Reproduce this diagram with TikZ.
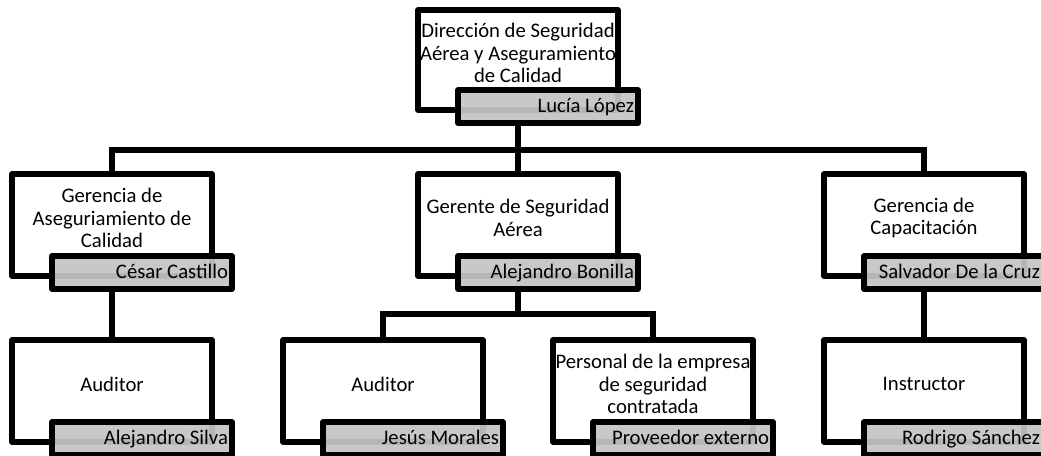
\documentclass[tikz,border=0pt]{standalone}
\usepackage{fontspec}
\setmainfont{Carlito}
\usetikzlibrary{calc}
\pgfdeclarelayer{bg}
\pgfsetlayers{bg,main}
\definecolor{namefill}{RGB}{196,196,196}
\tikzset{
  wbox/.style={draw=black, line width=5.5pt, fill=white, minimum width=200pt,
    inner sep=0pt, outer sep=0pt, line join=round},
  nbox/.style={draw=black, line width=5.5pt, fill=namefill, fill opacity=0.93,
    text opacity=1, minimum width=180pt, minimum height=33pt, inner xsep=4pt,
    inner ysep=0pt, outer sep=0pt,
    font=\fontsize{20.7}{22.6}\selectfont, text height=15pt, text depth=4pt,
    line join=round},
  ttext/.style={align=center, font=\fontsize{20.7}{22.6}\selectfont, inner sep=0pt},
  conn/.style={draw=black, line width=5.5pt}
}
\newcommand\orgunit[6]{%
  \node[wbox, minimum height={(#4-#3)*1pt}] (w#1) at ({#2+100},{(#3+#4)/2}) {};
  \node[ttext] (t#1) at ({#2+100},{(#3+#4-20)/2+3}) {#5};
  \node[nbox] (n#1) at ({#2+130},{#4-3.5}) {\makebox[172pt][r]{#6}};
}
\begin{document}
\begin{tikzpicture}[x=1pt,y=-1pt]
\useasboundingbox (0,0) rectangle (1041,455);
\orgunit{Top}{418}{10}{110}{Dirección de Seguridad\\Aérea y Aseguramiento\\de Calidad}{Lucía López}
\orgunit{A}{12}{174}{276}{Gerencia de\\Aseguriamiento de\\Calidad}{César Castillo}
\orgunit{B}{418}{174}{276}{Gerente de Seguridad\\Aérea}{Alejandro Bonilla}
\orgunit{C}{824}{174}{276}{Gerencia de\\Capacitación}{Salvador De la Cruz}
\orgunit{D}{12}{340}{442}{Auditor}{Alejandro Silva}
\orgunit{E}{283}{340}{442}{Auditor}{Jesús Morales}
\orgunit{F}{553}{340}{442}{Personal de la empresa\\de seguridad\\contratada}{Proveedor externo}
\orgunit{G}{824}{340}{442}{Instructor}{Rodrigo Sánchez}
\coordinate (bus) at (0,150);
\coordinate (bus2) at (0,314);
\begin{pgfonlayer}{bg}
\draw[conn] (wTop.center |- nTop.south) -- (wTop.center |- bus);
\draw[conn] (wA.north) -- (wA.north |- bus) -- (wC.north |- bus) -- (wC.north);
\draw[conn] (wB.north |- bus) -- (wB.north);
\draw[conn] (wA.center |- nA.south) -- (wD.north);
\draw[conn] (wB.center |- nB.south) -- (wB.center |- bus2);
\draw[conn] (wE.north) -- (wE.north |- bus2) -- (wF.north |- bus2) -- (wF.north);
\draw[conn] (wC.center |- nC.south) -- (wG.north);
\end{pgfonlayer}
\end{tikzpicture}
\end{document}
